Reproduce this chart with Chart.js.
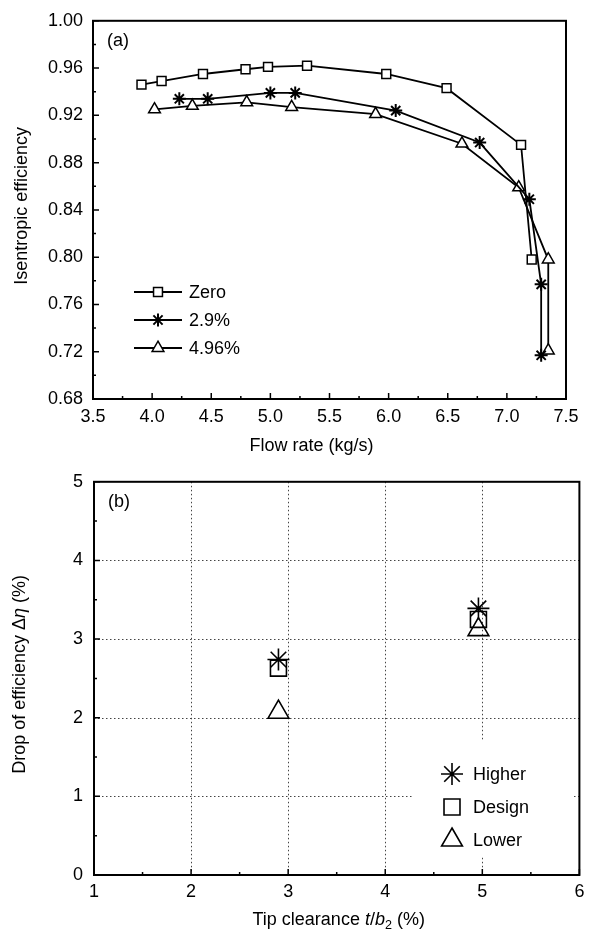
<!DOCTYPE html>
<html>
<head>
<meta charset="utf-8">
<script src="https://cdn.jsdelivr.net/npm/chart.js@4"></script>
<style>
  body { margin: 0; background: #fff; }
  canvas { display: block; }
</style>
</head>
<body>
<canvas id="effChart" width="593" height="460"></canvas>
<canvas id="dropChart" width="593" height="471"></canvas>
<script>
// (a) isentropic efficiency vs flow rate, one line per tip clearance
var flowZero = [3.91, 4.08, 4.43, 4.79, 4.98, 5.31, 5.98, 6.49, 7.12, 7.21];
var effZero = [0.946, 0.949, 0.955, 0.959, 0.961, 0.962, 0.955, 0.943, 0.895, 0.798];
var flow29 = [4.23, 4.47, 5.00, 5.21, 6.06, 6.77, 7.19, 7.29, 7.29];
var eff29 = [0.934, 0.934, 0.939, 0.939, 0.924, 0.897, 0.849, 0.777, 0.717];
var flow496 = [4.02, 4.34, 4.80, 5.18, 5.89, 6.62, 7.10, 7.35, 7.35];
var eff496 = [0.925, 0.928, 0.931, 0.927, 0.921, 0.896, 0.859, 0.798, 0.721];
var seriesA = ['Zero', '2.9%', '4.96%'];
var flowTicks = [3.5, 4.0, 4.5, 5.0, 5.5, 6.0, 6.5, 7.0, 7.5];
var effTicks = [0.68, 0.72, 0.76, 0.80, 0.84, 0.88, 0.92, 0.96, 1.00];

// (b) efficiency drop vs tip clearance at three operating points
var clearance = [2.9, 4.96];
var dropHigher = [2.74, 3.39];
var dropDesign = [2.63, 3.25];
var dropLower = [2.07, 3.12];
var seriesB = ['Higher', 'Design', 'Lower'];
var clearTicks = [1, 2, 3, 4, 5, 6];
var dropTicks = [0, 1, 2, 3, 4, 5];

var FONT = '"Liberation Sans", Arial, sans-serif';

function pts(xs, ys) {
    return xs.map(function (x, i) { return {x: x, y: ys[i]}; });
}

function fixTicks(list) {
    return function (scale) {
        scale.ticks = list.map(function (v) { return {value: v}; });
    };
}

// draws a string made of runs, some italic / subscript, centred on (cx, cy)
function drawRuns(ctx, runs, cx, cy, size, angle) {
    ctx.save();
    ctx.translate(cx, cy);
    if (angle) ctx.rotate(angle);
    ctx.textBaseline = 'middle';
    ctx.textAlign = 'left';
    ctx.fillStyle = '#000';
    var total = 0;
    runs.forEach(function (r) {
        var s = r.sub ? size * 0.7 : size;
        ctx.font = (r.it ? 'italic ' : '') + s + 'px ' + FONT;
        r.w = ctx.measureText(r.t).width;
        total += r.w;
    });
    var x = -total / 2;
    runs.forEach(function (r) {
        var s = r.sub ? size * 0.7 : size;
        ctx.font = (r.it ? 'italic ' : '') + s + 'px ' + FONT;
        ctx.fillText(r.t, x, r.sub ? size * 0.3 : 0);
        x += r.w;
    });
    ctx.restore();
}

function marker(ctx, style, r, x, y, bw) {
    ctx.save();
    ctx.fillStyle = '#fff';
    ctx.strokeStyle = '#000';
    ctx.lineWidth = bw;
    Chart.helpers.drawPoint(ctx, {pointStyle: style, radius: r, borderWidth: bw, rotation: 0}, x, y);
    ctx.restore();
}

// frame, inward ticks, optional dotted grid, inside legend, axis titles
var frameDecor = {
    id: 'frameDecor',
    beforeDatasetsDraw: function (chart, args, o) {
        if (!o.grid) return;
        var ctx = chart.ctx, a = chart.chartArea, sx = chart.scales.x, sy = chart.scales.y;
        ctx.save();
        ctx.strokeStyle = '#444';
        ctx.lineWidth = 1;
        ctx.setLineDash([1.5, 2.5]);
        ctx.beginPath();
        clearTicks.slice(1, -1).forEach(function (v) {
            var px = Math.round(sx.getPixelForValue(v)) + 0.5;
            ctx.moveTo(px, a.top); ctx.lineTo(px, a.bottom);
        });
        dropTicks.slice(1, -1).forEach(function (v) {
            var py = Math.round(sy.getPixelForValue(v)) + 0.5;
            ctx.moveTo(a.left, py); ctx.lineTo(a.right, py);
        });
        ctx.stroke();
        ctx.restore();
    },
    afterDatasetsDraw: function (chart, args, o) {
        var ctx = chart.ctx, a = chart.chartArea, sx = chart.scales.x, sy = chart.scales.y;
        ctx.save();
        // legend
        var lg = o.legend;
        if (lg.box) {
            ctx.fillStyle = '#fff';
            ctx.fillRect(lg.box[0], lg.box[1], lg.box[2], lg.box[3]);
        }
        ctx.font = lg.size + 'px ' + FONT;
        ctx.textBaseline = 'middle';
        ctx.fillStyle = '#000';
        lg.items.forEach(function (it, i) {
            var y = lg.y + i * lg.gap;
            if (lg.line) {
                ctx.strokeStyle = '#000';
                ctx.lineWidth = 1.8;
                ctx.beginPath();
                ctx.moveTo(lg.x - lg.line, y); ctx.lineTo(lg.x + lg.line, y);
                ctx.stroke();
            }
            marker(ctx, it.style, it.r, lg.x, y, it.bw);
            ctx.fillStyle = '#000';
            ctx.fillText(it.label, lg.x + lg.textDx, y + 1);
        });
        // frame
        ctx.strokeStyle = '#000';
        ctx.lineWidth = 2;
        ctx.strokeRect(a.left, a.top, a.right - a.left, a.bottom - a.top);
        // inward ticks, major at the labels and minor half-way between
        ctx.lineWidth = 1.5;
        ctx.beginPath();
        var xt = o.xTicks, yt = o.yTicks;
        xt.forEach(function (v, i) {
            var px = sx.getPixelForValue(v);
            ctx.moveTo(px, a.bottom); ctx.lineTo(px, a.bottom - 6);
            if (i < xt.length - 1) {
                var pm = sx.getPixelForValue((v + xt[i + 1]) / 2);
                ctx.moveTo(pm, a.bottom); ctx.lineTo(pm, a.bottom - 3);
            }
        });
        yt.forEach(function (v, i) {
            var py = sy.getPixelForValue(v);
            ctx.moveTo(a.left, py); ctx.lineTo(a.left + 6, py);
            if (i < yt.length - 1) {
                var pm = sy.getPixelForValue((v + yt[i + 1]) / 2);
                ctx.moveTo(a.left, pm); ctx.lineTo(a.left + 3, pm);
            }
        });
        ctx.stroke();
        ctx.restore();
    },
    afterDraw: function (chart, args, o) {
        var ctx = chart.ctx, a = chart.chartArea;
        ctx.save();
        ctx.font = o.size + 'px ' + FONT;
        ctx.fillStyle = '#000';
        ctx.textBaseline = 'middle';
        ctx.fillText(o.tag, a.left + 14, a.top + 20);
        ctx.restore();
        drawRuns(ctx, o.xTitle, (a.left + a.right) / 2 + o.xTitleDx, a.bottom + o.xTitleDy, o.size, 0);
        drawRuns(ctx, o.yTitle, o.yTitleX, (a.top + a.bottom) / 2 + o.yTitleDy, o.size, -Math.PI / 2);
    }
};

function lineSet(label, data, style, r) {
    return {
        label: label, data: data, showLine: true,
        borderColor: '#000', borderWidth: 1.8,
        pointStyle: style, pointRadius: r, pointBorderWidth: style === 'star' ? 2 : 1.5,
        pointBackgroundColor: '#fff', pointBorderColor: '#000'
    };
}

function dotSet(label, data, style, r) {
    return {
        label: label, data: data, showLine: false,
        pointStyle: style, pointRadius: r, pointBorderWidth: 1.6,
        pointBackgroundColor: 'rgba(0,0,0,0)', pointBorderColor: '#000'
    };
}

function axis(min, max, list, fmt, size, fitKey, fitVal, pad) {
    var o = {
        type: 'linear', min: min, max: max,
        afterBuildTicks: fixTicks(list),
        grid: {display: false, drawTicks: false},
        border: {display: false},
        ticks: {
            color: '#000', padding: pad, font: {family: FONT, size: size},
            callback: function (v) { return fmt(v); }
        }
    };
    o.afterFit = function (scale) {
        scale[fitKey] = fitVal;
        if (fitKey === 'height') scale.paddingRight = 0;
    };
    return o;
}

Chart.defaults.animation = false;

new Chart(document.getElementById('effChart'), {
    type: 'scatter',
    data: {
        datasets: [
            lineSet(seriesA[0], pts(flowZero, effZero), 'rect', 6.3),
            lineSet(seriesA[1], pts(flow29, eff29), 'star', 6.5),
            lineSet(seriesA[2], pts(flow496, eff496), 'triangle', 6.8)
        ]
    },
    options: {
        responsive: false,
        layout: {padding: {top: 18, right: 27, left: 0, bottom: 0}},
        scales: {
            x: axis(3.5, 7.5, flowTicks, function (v) { return v.toFixed(1); }, 18, 'height', 61, 7),
            y: axis(0.68, 1.0, effTicks, function (v) { return v.toFixed(2); }, 18, 'width', 93, 10)
        },
        plugins: {
            legend: {display: false},
            tooltip: {enabled: false},
            frameDecor: {
                grid: false, tag: '(a)', size: 18,
                xTicks: flowTicks, yTicks: effTicks,
                xTitle: [{t: 'Flow rate (kg/s)'}], xTitleDx: -18, xTitleDy: 47,
                yTitle: [{t: 'Isentropic efficiency'}], yTitleX: 22, yTitleDy: -4,
                legend: {
                    x: 158, y: 292, gap: 28, size: 18, line: 24, textDx: 31,
                    items: [
                        {label: seriesA[0], style: 'rect', r: 6.3, bw: 1.5},
                        {label: seriesA[1], style: 'star', r: 6.5, bw: 2},
                        {label: seriesA[2], style: 'triangle', r: 6.8, bw: 1.5}
                    ]
                }
            }
        }
    },
    plugins: [frameDecor]
});

new Chart(document.getElementById('dropChart'), {
    type: 'scatter',
    data: {
        datasets: [
            dotSet(seriesB[0], pts(clearance, dropHigher), 'star', 11),
            dotSet(seriesB[1], pts(clearance, dropDesign), 'rect', 11.3),
            dotSet(seriesB[2], pts(clearance, dropLower), 'triangle', 12)
        ]
    },
    options: {
        responsive: false,
        layout: {padding: {top: 19, right: 8, left: 0, bottom: 0}},
        scales: {
            x: axis(1, 6, clearTicks, function (v) { return String(v); }, 18, 'height', 56, 6),
            y: axis(0, 5, dropTicks, function (v) { return String(v); }, 18, 'width', 94, 11)
        },
        plugins: {
            legend: {display: false},
            tooltip: {enabled: false},
            frameDecor: {
                grid: true, tag: '(b)', size: 18,
                xTicks: clearTicks, yTicks: dropTicks,
                xTitle: [{t: 'Tip clearance '}, {t: 't', it: true}, {t: '/'}, {t: 'b', it: true},
                    {t: '2', sub: true}, {t: ' (%)'}],
                xTitleDx: 2, xTitleDy: 45,
                yTitle: [{t: 'Drop of efficiency \u0394'}, {t: '\u03b7', it: true}, {t: ' (%)'}],
                yTitleX: 20, yTitleDy: -4,
                legend: {
                    x: 452, y: 314, gap: 33, size: 18, line: 0, textDx: 21,
                    box: [414, 280, 160, 116],
                    items: [
                        {label: seriesB[0], style: 'star', r: 11, bw: 1.6},
                        {label: seriesB[1], style: 'rect', r: 11.3, bw: 1.6},
                        {label: seriesB[2], style: 'triangle', r: 12, bw: 1.6}
                    ]
                }
            }
        }
    },
    plugins: [frameDecor]
});
</script>
</body>
</html>
